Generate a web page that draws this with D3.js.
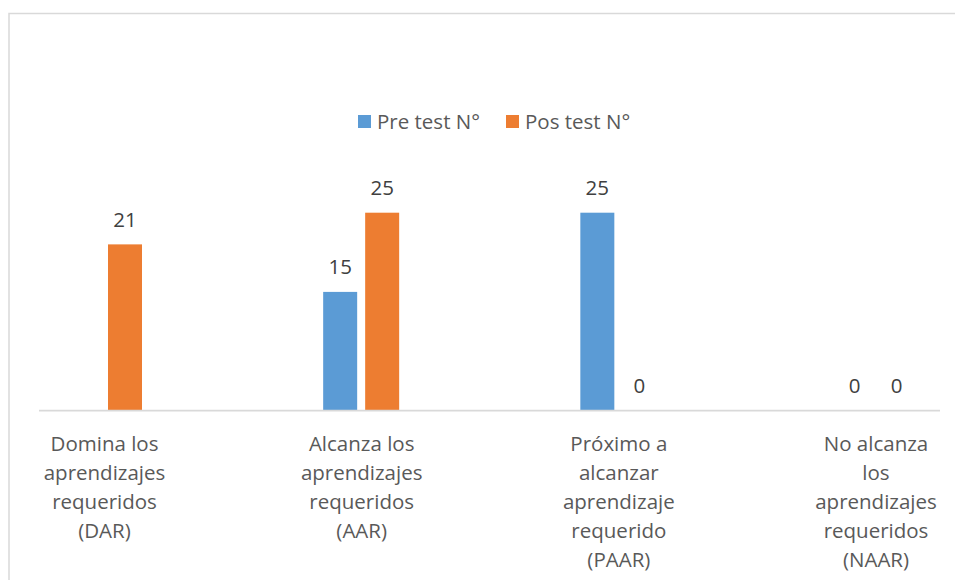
<!DOCTYPE html>
<html>
<head>
<meta charset="utf-8">
<script src="https://cdn.jsdelivr.net/npm/d3@7"></script>
<style>
  body { margin: 0; background: #fff; }
  text { font-family: "Open Sans", sans-serif; }
</style>
</head>
<body>
<div id="chart"></div>
<script>
// DATA
const categories = ["DAR", "AAR", "PAAR", "NAAR"];
const categoryLines = [
    ["Domina los", "aprendizajes", "requeridos", "(DAR)"],
    ["Alcanza los", "aprendizajes", "requeridos", "(AAR)"],
    ["Próximo a", "alcanzar", "aprendizaje", "requerido", "(PAAR)"],
    ["No alcanza", "los", "aprendizajes", "requeridos", "(NAAR)"]
];
const seriesNames = ["Pre test N°", "Pos test N°"];
const preTest = [null, 15, 25, 0];
const posTest = [21, 25, 0, 0];

const seriesColors = ["#5B9BD5", "#ED7D31"];

// LAYOUT
const width = 955;
const height = 580;
const baseline = 410.7;
const unit = 7.92;

const svg = d3.select("#chart")
    .append("svg")
    .attr("width", width)
    .attr("height", height);

// chart border
svg.append("rect")
    .attr("x", 9)
    .attr("y", 13.5)
    .attr("width", 1000)
    .attr("height", 700)
    .attr("fill", "#fff")
    .attr("stroke", "#d9d9d9")
    .attr("stroke-width", 1.5);

// SCALES
const xScale = d3.scalePoint()
    .domain(categories)
    .range([104, 875.5]);

const xSub = d3.scaleBand()
    .domain(seriesNames)
    .range([0, 76])
    .paddingInner(0.1905);

const yScale = d3.scaleLinear()
    .domain([0, 30])
    .range([baseline, baseline - 30 * unit]);

const rows = categories.map((c, i) => ({
    cat: c,
    values: [
        { name: seriesNames[0], value: preTest[i] },
        { name: seriesNames[1], value: posTest[i] }
    ]
}));

// BARS
const groups = svg.selectAll(".group")
    .data(rows)
    .enter()
    .append("g")
    .attr("class", "group")
    .attr("transform", d => `translate(${xScale(d.cat) - 38},0)`);

groups.selectAll("rect")
    .data(d => d.values.filter(v => v.value !== null))
    .enter()
    .append("rect")
    .attr("x", d => xSub(d.name))
    .attr("y", d => yScale(d.value))
    .attr("width", xSub.bandwidth())
    .attr("height", d => baseline - yScale(d.value))
    .attr("fill", d => seriesColors[seriesNames.indexOf(d.name)]);

// VALUE LABELS
groups.selectAll(".value")
    .data(d => d.values.filter(v => v.value !== null))
    .enter()
    .append("text")
    .attr("class", "value")
    .attr("x", d => xSub(d.name) + xSub.bandwidth() / 2)
    .attr("y", d => yScale(d.value) - 17.5)
    .attr("text-anchor", "middle")
    .attr("font-size", "20.5px")
    .attr("fill", "#404040")
    .text(d => d.value);

// AXIS
svg.append("line")
    .attr("x1", 39)
    .attr("x2", 940)
    .attr("y1", baseline)
    .attr("y2", baseline)
    .attr("stroke", "#d9d9d9")
    .attr("stroke-width", 1.8);

const xAxis = svg.append("g")
    .attr("transform", `translate(0,${baseline})`)
    .call(d3.axisBottom(xScale).tickSize(0).tickFormat(""));

xAxis.select(".domain").remove();

xAxis.selectAll(".tick text").remove();
xAxis.selectAll(".tick")
    .append("text")
    .attr("text-anchor", "middle")
    .attr("font-size", "20.5px")
    .attr("fill", "#595959")
    .selectAll("tspan")
    .data(d => categoryLines[categories.indexOf(d)])
    .enter()
    .append("tspan")
    .attr("x", 0)
    .attr("y", (_, i) => 40 + i * 29.2)
    .text(d => d);

// LEGEND
const legendX = [358, 506];
const legend = svg.selectAll(".legend")
    .data(seriesNames)
    .enter()
    .append("g")
    .attr("class", "legend")
    .attr("transform", (_, i) => `translate(${legendX[i]},115)`);

legend.append("rect")
    .attr("width", 13)
    .attr("height", 13)
    .attr("fill", (_, i) => seriesColors[i]);

legend.append("text")
    .attr("x", 19)
    .attr("y", 14)
    .attr("font-size", "20.5px")
    .attr("fill", "#595959")
    .text(d => d);
</script>
</body>
</html>
